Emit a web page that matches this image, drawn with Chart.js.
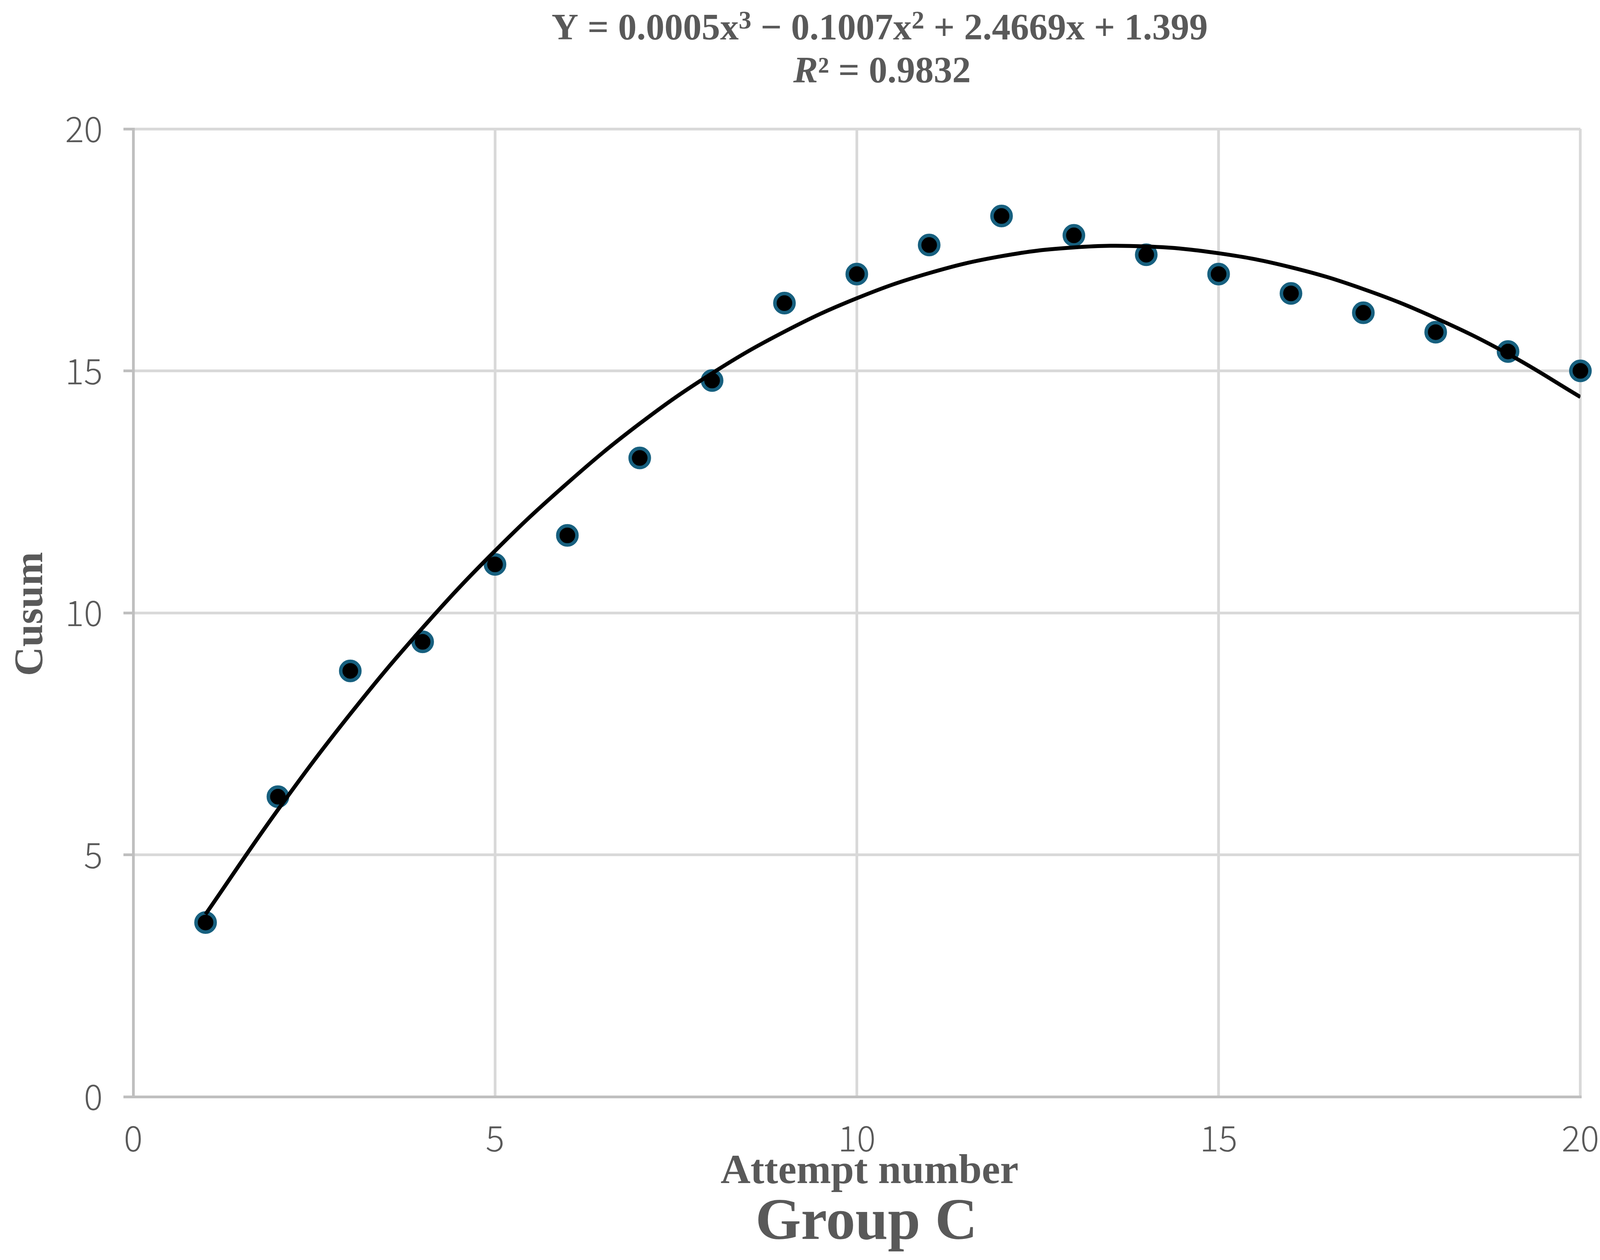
<!DOCTYPE html>
<html>
<head>
<meta charset="utf-8">
<title>Group C</title>
<script src="https://cdn.jsdelivr.net/npm/chart.js@4.4.1/dist/chart.umd.min.js"></script>
<style>
  html, body { margin: 0; padding: 0; background: #ffffff; }
  #chart { display: block; }
</style>
</head>
<body>
<canvas id="chart" width="4146" height="3226"></canvas>
<script>
"use strict";

// values
const attempts = [1, 2, 3, 4, 5, 6, 7, 8, 9, 10, 11, 12, 13, 14, 15, 16, 17, 18, 19, 20];
const cusum = [3.6, 6.2, 8.8, 9.4, 11.0, 11.6, 13.2, 14.8, 16.4, 17.0,
               17.6, 18.2, 17.8, 17.4, 17.0, 16.6, 16.2, 15.8, 15.4, 15.0];
// fitted curve, read at each attempt
const trend = [3.77, 5.93, 7.91, 9.69, 11.28, 12.68, 13.91, 14.95, 15.81, 16.50,
               17.02, 17.37, 17.55, 17.57, 17.43, 17.14, 16.69, 16.09, 15.35, 14.46];
const xTicks = [0, 5, 10, 15, 20];
const yTicks = [0, 5, 10, 15, 20];

// equation pieces, sup = raised exponent
const equationParts = [
    { t: "Y = 0.0005x" }, { t: "3", sup: true },
    { t: " \u2212 0.1007x" }, { t: "2", sup: true },
    { t: " + 2.4669x + 1.399" }
];
const rSquaredParts = [{ t: "R", italic: true }, { t: "\u00B2 = 0.9832" }];
const xTitle = "Attempt number";
const yTitle = "Cusum";
const groupLabel = "Group C";

const TEXT_COLOR = "#595959";
const SERIF = '"Liberation Serif", "Times New Roman", serif';
const TICK_FONT = { family: '"Noto Sans CJK JP", "Noto Sans", sans-serif', size: 90, weight: 300 };

/**
 * Writes a line made of several styled pieces, centred on cx
 */
function drawPieces(ctx, parts, cx, baseline, size) {
    const fontOf = (p) => (p.italic ? "italic " : "") + "bold " +
        Math.round(p.sup ? size * 0.68 : size) + "px " + SERIF;
    let total = 0;
    const widths = parts.map(p => {
        ctx.font = fontOf(p);
        const w = ctx.measureText(p.t).width;
        total += w;
        return w;
    });
    let x = cx - total / 2;
    ctx.textAlign = "left";
    parts.forEach((p, i) => {
        ctx.font = fontOf(p);
        ctx.fillText(p.t, x, p.sup ? baseline - size * 0.3 : baseline);
        x += widths[i];
    });
}

/**
 * Draws the titles and axis names that sit outside the plot
 */
const textPlugin = {
    id: "chartTexts",
    afterDraw(chart) {
        const ctx = chart.ctx;
        ctx.save();
        ctx.fillStyle = TEXT_COLOR;
        ctx.textBaseline = "alphabetic";

        drawPieces(ctx, equationParts, 2252, 101, 95);
        drawPieces(ctx, rSquaredParts, 2258, 211, 95);

        // x axis title and group name
        ctx.textAlign = "center";
        ctx.font = "bold 106px " + SERIF;
        ctx.fillText(xTitle, 2226, 3029);
        ctx.font = "bold 150px " + SERIF;
        ctx.fillText(groupLabel, 2218, 3172);

        // y axis title
        ctx.translate(108, 1572);
        ctx.rotate(-Math.PI / 2);
        ctx.font = "bold 104px " + SERIF;
        ctx.fillText(yTitle, 0, 0);
        ctx.restore();
    }
};

function renderChart() {
    const ctx = document.getElementById("chart");

    const points = attempts.map((x, i) => ({ x: x, y: cusum[i] }));
    const curve = attempts.map((x, i) => ({ x: x, y: trend[i] }));

    new Chart(ctx, {
        type: "scatter",
        data: {
            datasets: [
                {
                    label: "Poly. (Cusum)",
                    data: curve,
                    showLine: true,
                    borderColor: "#000000",
                    borderWidth: 10,
                    pointRadius: 0,
                    pointHoverRadius: 0,
                    tension: 0.4,
                    order: 0
                },
                {
                    label: "Cusum",
                    data: points,
                    backgroundColor: "#000000",
                    borderColor: "#17607f",
                    borderWidth: 9,
                    pointRadius: 24.5,
                    pointHoverRadius: 24.5,
                    clip: false,
                    order: 1
                }
            ]
        },
        options: {
            responsive: false,
            devicePixelRatio: 1,
            animation: false,
            events: [],
            layout: { padding: { top: 330, right: 72, bottom: 0, left: 0 } },
            plugins: {
                legend: { display: false },
                title: { display: false },
                tooltip: { enabled: false }
            },
            scales: {
                x: {
                    type: "linear",
                    min: 0,
                    max: 20,
                    afterBuildTicks: (scale) => { scale.ticks = xTicks.map(v => ({ value: v })); },
                    ticks: { color: TEXT_COLOR, font: TICK_FONT, padding: 52, maxRotation: 0 },
                    grid: { color: "#d9d9d9", lineWidth: 7, drawTicks: false },
                    border: { color: "#bfbfbf", width: 7 },
                    afterFit: (scale) => { scale.height = 418; }
                },
                y: {
                    type: "linear",
                    min: 0,
                    max: 20,
                    afterBuildTicks: (scale) => { scale.ticks = yTicks.map(v => ({ value: v })); },
                    ticks: { color: TEXT_COLOR, font: TICK_FONT, padding: 53 },
                    grid: { color: "#d9d9d9", lineWidth: 7, tickLength: 25, tickColor: "#bfbfbf", tickWidth: 7 },
                    border: { color: "#bfbfbf", width: 7 },
                    afterFit: (scale) => { scale.width = 341; }
                }
            }
        },
        plugins: [textPlugin]
    });
};

renderChart();
</script>
</body>
</html>
